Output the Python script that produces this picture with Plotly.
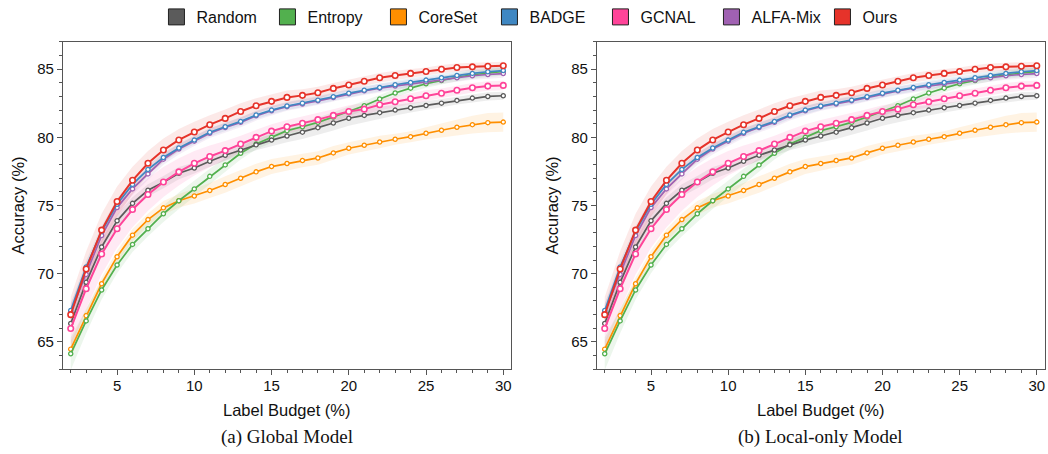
import plotly.graph_objects as go

budget = list(range(2, 31))

methods = ["Random", "Entropy", "CoreSet", "BADGE", "GCNAL", "ALFA-Mix", "Ours"]
colors = {
    "Random": "#5b5b5b",
    "Entropy": "#52b04e",
    "CoreSet": "#ff8f00",
    "BADGE": "#3f87c2",
    "GCNAL": "#ff4499",
    "ALFA-Mix": "#a061b2",
    "Ours": "#e6332a",
}

acc_random = [66.35, 69.37, 71.96, 73.88, 75.16, 76.12, 76.71, 77.37, 77.75, 78.25,
              78.69, 79.07, 79.45, 79.8, 80.1, 80.38, 80.71, 81.05, 81.4, 81.61,
              81.81, 82.0, 82.17, 82.34, 82.51, 82.71, 82.88, 83.0, 83.05]
acc_entropy = [64.13, 66.54, 68.81, 70.64, 72.15, 73.3, 74.4, 75.35, 76.22, 77.14,
               77.98, 78.83, 79.51, 80.0, 80.49, 80.78, 81.1, 81.49, 81.9, 82.32,
               82.81, 83.25, 83.61, 83.93, 84.17, 84.41, 84.59, 84.73, 84.83]
acc_coreset = [64.47, 66.93, 69.27, 71.25, 72.83, 73.97, 74.83, 75.35, 75.7, 76.1,
               76.54, 77.0, 77.47, 77.86, 78.08, 78.3, 78.49, 78.86, 79.2, 79.42,
               79.66, 79.86, 80.05, 80.3, 80.52, 80.74, 80.93, 81.08, 81.12]
acc_badge = [67.3, 70.5, 73.1, 75.1, 76.55, 77.65, 78.52, 79.22, 79.8, 80.37,
             80.78, 81.17, 81.64, 82.0, 82.3, 82.51, 82.73, 82.98, 83.24, 83.46,
             83.66, 83.86, 84.03, 84.2, 84.37, 84.54, 84.69, 84.81, 84.9]
acc_gcnal = [65.98, 68.9, 71.45, 73.3, 74.71, 75.81, 76.73, 77.47, 78.1, 78.6,
             79.03, 79.51, 80.0, 80.46, 80.78, 81.03, 81.3, 81.61, 81.9, 82.07,
             82.39, 82.61, 82.83, 83.05, 83.24, 83.46, 83.64, 83.76, 83.81]
acc_alfamix = [67.2, 69.95, 72.8, 74.85, 76.22, 77.32, 78.4, 79.15, 79.72, 80.3,
               80.72, 81.1, 81.58, 81.95, 82.25, 82.45, 82.68, 82.92, 83.19, 83.41,
               83.61, 83.76, 83.93, 84.08, 84.2, 84.37, 84.52, 84.61, 84.68]
acc_ours = [67.0, 70.35, 73.2, 75.3, 76.85, 78.1, 79.07, 79.81, 80.39, 80.93,
            81.39, 81.9, 82.32, 82.64, 82.93, 83.08, 83.27, 83.59, 83.84, 84.12,
            84.37, 84.54, 84.69, 84.83, 85.0, 85.12, 85.17, 85.22, 85.25]

std_random = [0.5, 0.5, 0.5, 0.5, 0.45, 0.45, 0.45, 0.45, 0.4, 0.4,
              0.4, 0.4, 0.4, 0.45, 0.45, 0.5, 0.5, 0.55, 0.55, 0.5,
              0.45, 0.4, 0.35, 0.3, 0.3, 0.3, 0.3, 0.3, 0.3]
std_entropy = [1.2, 0.9, 0.7, 0.6, 0.55, 0.55, 0.6, 0.6, 0.6, 0.55,
               0.5, 0.45, 0.4, 0.4, 0.35, 0.35, 0.35, 0.35, 0.35, 0.35,
               0.3, 0.3, 0.3, 0.3, 0.3, 0.3, 0.3, 0.3, 0.3]
std_coreset = [0.6, 0.5, 0.45, 0.45, 0.45, 0.45, 0.5, 0.5, 0.55, 0.55,
               0.6, 0.6, 0.6, 0.55, 0.55, 0.5, 0.5, 0.5, 0.45, 0.45,
               0.45, 0.4, 0.4, 0.45, 0.5, 0.6, 0.65, 0.7, 0.7]
std_badge = [0.5, 0.45, 0.4, 0.4, 0.35, 0.35, 0.35, 0.3, 0.3, 0.3,
             0.3, 0.3, 0.3, 0.3, 0.3, 0.3, 0.3, 0.3, 0.3, 0.3,
             0.3, 0.3, 0.3, 0.3, 0.3, 0.3, 0.3, 0.3, 0.3]
std_gcnal = [1.4, 1.5, 1.5, 1.4, 1.3, 1.2, 1.1, 1.0, 0.9, 0.8,
             0.7, 0.6, 0.55, 0.5, 0.5, 0.5, 0.5, 0.45, 0.45, 0.45,
             0.4, 0.4, 0.4, 0.4, 0.35, 0.35, 0.35, 0.35, 0.35]
std_alfamix = [0.6, 0.55, 0.5, 0.45, 0.45, 0.4, 0.4, 0.4, 0.35, 0.35,
               0.35, 0.35, 0.35, 0.35, 0.3, 0.3, 0.3, 0.3, 0.3, 0.3,
               0.3, 0.3, 0.3, 0.3, 0.3, 0.3, 0.3, 0.3, 0.3]
std_ours = [1.3, 1.3, 1.2, 1.1, 1.0, 0.9, 0.85, 0.8, 0.75, 0.7,
            0.65, 0.6, 0.55, 0.5, 0.5, 0.45, 0.45, 0.4, 0.4, 0.35,
            0.35, 0.35, 0.3, 0.3, 0.3, 0.3, 0.3, 0.3, 0.3]

acc = {"Random": acc_random, "Entropy": acc_entropy, "CoreSet": acc_coreset,
       "BADGE": acc_badge, "GCNAL": acc_gcnal, "ALFA-Mix": acc_alfamix, "Ours": acc_ours}
std = {"Random": std_random, "Entropy": std_entropy, "CoreSet": std_coreset,
       "BADGE": std_badge, "GCNAL": std_gcnal, "ALFA-Mix": std_alfamix, "Ours": std_ours}

draw_order = ["CoreSet", "Entropy", "Random", "GCNAL", "ALFA-Mix", "BADGE", "Ours"]
big = {"Ours", "GCNAL"}

x_ticks = [5, 10, 15, 20, 25, 30]
y_ticks = [65, 70, 75, 80, 85]
captions = ["(a) Global Model", "(b) Local-only Model"]


def rgba(hexc, a):
    h = hexc.lstrip("#")
    r, g, b = int(h[0:2], 16), int(h[2:4], 16), int(h[4:6], 16)
    return f"rgba({r},{g},{b},{a})"


fig = go.Figure()
for k, (xa, ya) in enumerate([("x", "y"), ("x2", "y2")]):
    for m in draw_order:
        up = [a + s for a, s in zip(acc[m], std[m])]
        lo = [a - s for a, s in zip(acc[m], std[m])]
        fig.add_trace(go.Scatter(
            x=budget + budget[::-1], y=up + lo[::-1], fill="toself",
            fillcolor=rgba(colors[m], 0.11), line=dict(width=0), mode="lines",
            hoverinfo="skip", showlegend=False, xaxis=xa, yaxis=ya))
    for m in draw_order:
        fig.add_trace(go.Scatter(
            x=budget, y=acc[m], mode="lines+markers",
            line=dict(color=colors[m], width=2.0 if m in big else 1.7),
            marker=dict(symbol="circle", size=5.5 if m in big else 4.2,
                        color="white",
                        line=dict(color=colors[m], width=1.6 if m in big else 1.3)),
            showlegend=False, xaxis=xa, yaxis=ya))

for m in methods:
    fig.add_trace(go.Scatter(
        x=[None], y=[None], mode="markers", name=m,
        marker=dict(symbol="square", size=16, color=colors[m],
                    line=dict(color="#222222", width=1)),
        showlegend=True, xaxis="x", yaxis="y"))

axis_color = "#555555"
font_fam = "Liberation Sans, Arial, Helvetica, sans-serif"

def xaxis_cfg(domain, anchor):
    return dict(domain=domain, anchor=anchor, range=[1.5, 30.5],
                tickvals=x_ticks, ticks="outside", ticklen=5, tickwidth=1.2,
                tickcolor=axis_color, showline=True, linecolor=axis_color,
                linewidth=1.3, mirror=True, showgrid=False, zeroline=False,
                ticklabelstandoff=-2,
                tickfont=dict(size=15, color="#111", family=font_fam),
                minor=dict(dtick=1, tick0=0, ticks="outside", ticklen=3,
                           tickwidth=1, tickcolor=axis_color, showgrid=False))

def yaxis_cfg(domain, anchor):
    return dict(domain=domain, anchor=anchor, range=[63, 87],
                tickvals=y_ticks, ticks="outside", ticklen=5, tickwidth=1.2,
                tickcolor=axis_color, showline=True, linecolor=axis_color,
                linewidth=1.3, mirror=True, showgrid=False, zeroline=False,
                tickfont=dict(size=15, color="#111", family=font_fam),
                minor=dict(dtick=1, tick0=0, ticks="outside", ticklen=3,
                           tickwidth=1, tickcolor=axis_color, showgrid=False))

W, H = 1048, 454
ydom = [1 - 369 / H, 1 - 41 / H]
xdom1 = [63 / W, 511 / W]
xdom2 = [597 / W, 1044.5 / W]

annotations = []
for xd, cap in [(xdom1, captions[0]), (xdom2, captions[1])]:
    cx = (xd[0] + xd[1]) / 2
    annotations.append(dict(x=cx, y=1 - 410 / H, xref="paper", yref="paper",
                            xanchor="center", yanchor="middle",
                            text="Label Budget (%)", showarrow=False,
                            font=dict(size=16.5, color="#111", family=font_fam)))
    annotations.append(dict(x=cx, y=1 - 437 / H, xref="paper", yref="paper",
                            xanchor="center", yanchor="middle",
                            text=cap, showarrow=False,
                            font=dict(size=19, color="#111",
                                      family="Liberation Serif, Times New Roman, serif")))
    annotations.append(dict(x=xd[0] - 45 / W, y=(ydom[0] + ydom[1]) / 2,
                            xref="paper", yref="paper", text="Accuracy (%)",
                            xanchor="center", yanchor="middle",
                            textangle=-90, showarrow=False,
                            font=dict(size=16.5, color="#111", family=font_fam)))

fig.update_layout(
    width=W, height=H, autosize=False,
    margin=dict(l=0, r=0, t=0, b=0),
    paper_bgcolor="white", plot_bgcolor="white",
    font=dict(family=font_fam, color="#111"),
    xaxis=xaxis_cfg(xdom1, "y"), yaxis=yaxis_cfg(ydom, "x"),
    xaxis2=xaxis_cfg(xdom2, "y2"), yaxis2=yaxis_cfg(ydom, "x2"),
    legend=dict(orientation="h", x=0.52, xanchor="center", y=1 - 16 / H,
                yanchor="middle", font=dict(size=16, color="#111", family=font_fam),
                itemwidth=30, entrywidth=66, entrywidthmode="pixels",
                bgcolor="rgba(0,0,0,0)", tracegroupgap=0),
    annotations=annotations,
)

fig.write_html("out.html")
